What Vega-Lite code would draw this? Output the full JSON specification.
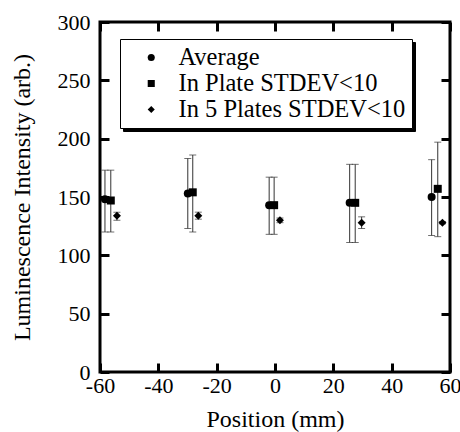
{
  "$schema": "https://vega.github.io/schema/vega-lite/v6.json",
  "width": 350,
  "height": 350,
  "autosize": "none",
  "padding": {"left": 100, "top": 22, "right": 10, "bottom": 60},
  "data": {
    "values": [
      {"pos": -58.3, "series": "Average", "shadow": "Average", "value": 148, "lo": 120, "hi": 173},
      {"pos": -56.3, "series": "In Plate STDEV<10", "shadow": "In Plate STDEV<10", "value": 147, "lo": 120, "hi": 173},
      {"pos": -54.2, "series": "In 5 Plates STDEV<10", "shadow": "In 5 Plates STDEV<10", "value": 134, "lo": 130, "hi": 137},
      {"pos": -29.9, "series": "Average", "shadow": "Average", "value": 153, "lo": 123, "hi": 183},
      {"pos": -28.2, "series": "In Plate STDEV<10", "shadow": "In Plate STDEV<10", "value": 154, "lo": 120, "hi": 186},
      {"pos": -26.3, "series": "In 5 Plates STDEV<10", "shadow": "In 5 Plates STDEV<10", "value": 134, "lo": 131, "hi": 137},
      {"pos": -2.0, "series": "Average", "shadow": "Average", "value": 143, "lo": 118, "hi": 167},
      {"pos": -0.3, "series": "In Plate STDEV<10", "shadow": "In Plate STDEV<10", "value": 143, "lo": 118, "hi": 167},
      {"pos": 1.7, "series": "In 5 Plates STDEV<10", "shadow": "In 5 Plates STDEV<10", "value": 130, "lo": 128, "hi": 132},
      {"pos": 25.6, "series": "Average", "shadow": "Average", "value": 145, "lo": 111, "hi": 178},
      {"pos": 27.5, "series": "In Plate STDEV<10", "shadow": "In Plate STDEV<10", "value": 145, "lo": 111, "hi": 178},
      {"pos": 29.7, "series": "In 5 Plates STDEV<10", "shadow": "In 5 Plates STDEV<10", "value": 128, "lo": 123, "hi": 133},
      {"pos": 53.7, "series": "Average", "shadow": "Average", "value": 150, "lo": 117, "hi": 182},
      {"pos": 55.8, "series": "In Plate STDEV<10", "shadow": "In Plate STDEV<10", "value": 157, "lo": 116, "hi": 197},
      {"pos": 57.4, "series": "In 5 Plates STDEV<10", "shadow": "In 5 Plates STDEV<10", "value": 128, "lo": 127, "hi": 129}
    ]
  },
  "layer": [
    {
      "mark": {"type": "errorbar", "ticks": true, "size": 7, "thickness": 1, "color": "#333333"},
      "encoding": {
        "x": {
          "field": "pos", "type": "quantitative",
          "scale": {"domain": [-60, 60], "nice": false, "zero": false},
          "axis": {
            "title": "Position (mm)", "values": [-60, -40, -20, 0, 20, 40, 60],
            "labelExpr": "'' + datum.value",
            "offset": -9, "tickSize": 9, "labelPadding": 3, "titleY": 63, "titleBaseline": "alphabetic"
          }
        },
        "y": {
          "field": "lo", "type": "quantitative",
          "scale": {"domain": [0, 300], "nice": false},
          "axis": {
            "title": "Luminescence Intensity (arb.)", "values": [0, 50, 100, 150, 200, 250, 300],
            "offset": -9, "tickSize": 9, "labelPadding": 10, "titleX": -87, "titleY": 175,
            "titleAngle": -90, "titleBaseline": "middle", "titleAlign": "center"
          }
        },
        "y2": {"field": "hi"}
      }
    },
    {
      "mark": {"type": "point", "filled": true, "opacity": 0, "size": 50},
      "encoding": {
        "x": {"field": "pos", "type": "quantitative", "axis": null},
        "y": {"field": "value", "type": "quantitative", "axis": null},
        "shape": {
          "field": "shadow", "type": "nominal",
          "scale": {
            "domain": ["Average", "In Plate STDEV<10", "In 5 Plates STDEV<10"],
            "range": ["circle", "square", "diamond"]
          },
          "legend": {
            "title": null, "orient": "none", "legendX": 23, "legendY": 20, "zindex": 0,
            "padding": 6, "symbolOffset": 13, "labelOffset": 242, "labelExpr": "''",
            "strokeColor": "black", "fillColor": "black", "symbolSize": 50,
            "symbolFillColor": "black", "symbolStrokeColor": "black", "symbolStrokeWidth": 0,
            "labelFontSize": 24.5, "labelFont": "Liberation Serif", "labelColor": "black",
            "rowPadding": 0, "clipHeight": 25, "labelLimit": 400
          }
        }
      }
    },
    {
      "mark": {"type": "point", "filled": true, "opacity": 1, "color": "black", "size": 64},
      "encoding": {
        "x": {
          "field": "pos", "type": "quantitative",
          "axis": {"orient": "top", "labels": false, "title": null, "values": [-60, -40, -20, 0, 20, 40, 60], "offset": -9, "tickSize": 9}
        },
        "y": {
          "field": "value", "type": "quantitative",
          "axis": {"orient": "right", "labels": false, "title": null, "values": [0, 50, 100, 150, 200, 250, 300], "offset": -9, "tickSize": 9}
        },
        "shape": {
          "field": "series", "type": "nominal",
          "scale": {
            "domain": ["Average", "In Plate STDEV<10", "In 5 Plates STDEV<10"],
            "range": ["circle", "square", "diamond"]
          },
          "legend": {
            "title": null, "orient": "none", "legendX": 20, "legendY": 17, "zindex": 1,
            "padding": 6, "symbolOffset": 13, "labelOffset": 15,
            "strokeColor": "black", "fillColor": "white", "symbolSize": 50,
            "symbolFillColor": "black", "symbolStrokeColor": "black", "symbolStrokeWidth": 0,
            "labelFontSize": 24.5, "labelFont": "Liberation Serif", "labelColor": "black",
            "rowPadding": 0, "clipHeight": 25, "labelLimit": 400
          }
        }
      }
    }
  ],
  "resolve": {
    "axis": {"x": "independent", "y": "independent"},
    "scale": {"shape": "independent"},
    "legend": {"shape": "independent"}
  },
  "config": {
    "font": "Liberation Serif",
    "view": {"stroke": "black", "strokeWidth": 3},
    "axis": {
      "domain": false, "grid": false, "tickColor": "black", "tickWidth": 3,
      "labelFont": "Liberation Serif", "labelFontSize": 22, "labelColor": "black",
      "titleFont": "Liberation Serif", "titleFontSize": 24, "titleColor": "black", "titleFontWeight": "normal",
      "labelFlush": false, "labelOverlap": false, "labelBound": false
    }
  }
}
